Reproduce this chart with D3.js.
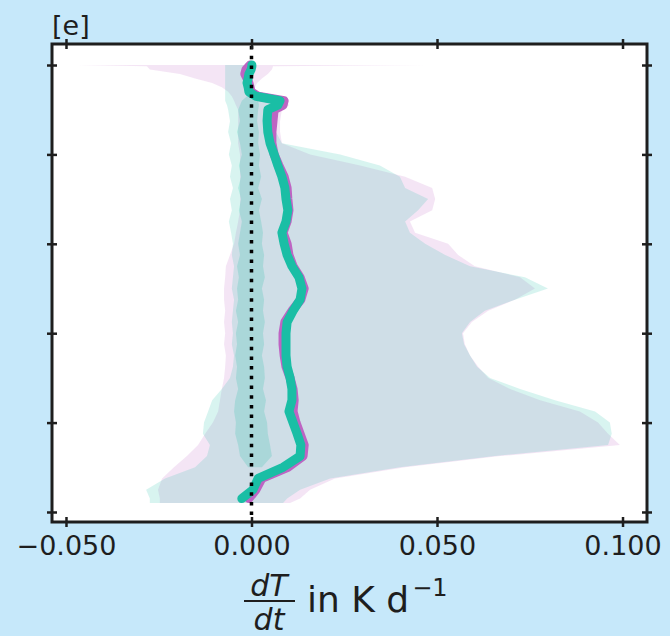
<!DOCTYPE html>
<html><head><meta charset="utf-8">
<script src="https://cdn.jsdelivr.net/npm/d3@7"></script>
<style>html,body{margin:0;padding:0;background:#c6e8fa;} svg{display:block}</style>
</head><body><svg id="c" width="670" height="636"></svg>
<script>
// ---- data ----
const levels = [10.0, 9.97, 9.9, 9.8, 9.7, 9.6, 9.5, 9.4, 9.3, 9.2, 9.1, 9.0, 8.75, 8.5, 8.25, 8.0, 7.75, 7.5, 7.25, 7.0, 6.75, 6.5, 6.25, 6.0, 5.75, 5.5, 5.25, 5.0, 4.75, 4.5, 4.25, 4.0, 3.75, 3.5, 3.25, 3.0, 2.75, 2.5, 2.25, 2.0, 1.75, 1.5, 1.25, 1.0, 0.75, 0.5, 0.3, 0.2];

const tealMean = [0.0001, 0.0001, -0.0001, -0.0007, -0.0009, -0.0012, -0.0009, -0.0007, 0.0012, 0.0077, 0.0071, 0.0044, 0.0042, 0.0044, 0.0050, 0.0061, 0.0071, 0.0082, 0.0090, 0.0093, 0.0098, 0.0093, 0.0082, 0.0088, 0.0096, 0.0109, 0.0128, 0.0136, 0.0131, 0.0112, 0.0096, 0.0093, 0.0093, 0.0093, 0.0096, 0.0104, 0.0109, 0.0109, 0.0101, 0.0112, 0.0123, 0.0133, 0.0131, 0.0085, 0.0018, 0.0004, -0.0026, null];

const magentaMean = [-0.0004, -0.0007, -0.0015, -0.0018, -0.0012, -0.0007, -0.0004, -0.0001, 0.0018, 0.0088, 0.0085, 0.0061, 0.0058, 0.0055, 0.0055, 0.0061, 0.0074, 0.0088, 0.0096, 0.0098, 0.0101, 0.0096, 0.0085, 0.0096, 0.0101, 0.0112, 0.0131, 0.0142, 0.0133, 0.0109, 0.0090, 0.0085, 0.0085, 0.0088, 0.0093, 0.0104, 0.0112, 0.0115, 0.0112, 0.0120, 0.0131, 0.0142, 0.0139, 0.0098, 0.0028, 0.0012, -0.0007, null];

const magentaLow = [-0.0468, -0.0282, -0.0274, -0.0193, -0.0152, -0.0106, -0.0080, -0.0063, -0.0053, -0.0047, -0.0042, -0.0036, -0.0036, -0.0036, -0.0036, -0.0031, -0.0031, -0.0031, -0.0031, -0.0031, -0.0031, -0.0036, -0.0042, -0.0047, -0.0058, -0.0069, -0.0071, -0.0074, -0.0074, -0.0071, -0.0074, -0.0071, -0.0074, -0.0069, -0.0071, -0.0074, -0.0080, -0.0085, -0.0090, -0.0104, -0.0125, -0.0144, -0.0174, -0.0209, -0.0241, -0.0252, -0.0247, -0.0247];

const magentaHigh = [0.0468, 0.0058, 0.0055, 0.0044, 0.0028, 0.0015, 0.0009, 0.0009, 0.0028, 0.0093, 0.0101, 0.0082, 0.0077, 0.0077, 0.0082, 0.0158, 0.0293, 0.0414, 0.0487, 0.0495, 0.0487, 0.0427, 0.0441, 0.0530, 0.0557, 0.0602, 0.0724, 0.0764, 0.0710, 0.0638, 0.0594, 0.0570, 0.0575, 0.0589, 0.0611, 0.0638, 0.0697, 0.0778, 0.0885, 0.0934, 0.0961, 0.0993, 0.0670, 0.0414, 0.0225, 0.0158, 0.0131, 0.0104];

const tealLow = [-0.0071, -0.0071, -0.0071, -0.0071, -0.0071, -0.0071, -0.0071, -0.0071, -0.0071, -0.0071, -0.0066, -0.0063, -0.0058, -0.0063, -0.0055, -0.0061, -0.0053, -0.0058, -0.0050, -0.0058, -0.0053, -0.0061, -0.0055, -0.0050, -0.0053, -0.0047, -0.0050, -0.0053, -0.0047, -0.0050, -0.0053, -0.0050, -0.0053, -0.0047, -0.0050, -0.0058, -0.0080, -0.0106, -0.0117, -0.0128, -0.0131, -0.0112, -0.0120, -0.0152, -0.0233, -0.0284, -0.0274, -0.0274];

const tealHigh = [-0.0004, -0.0004, -0.0004, -0.0004, -0.0004, -0.0001, 0.0001, 0.0007, 0.0023, 0.0082, 0.0090, 0.0071, 0.0066, 0.0066, 0.0082, 0.0239, 0.0346, 0.0400, 0.0414, 0.0476, 0.0449, 0.0414, 0.0427, 0.0468, 0.0522, 0.0589, 0.0737, 0.0799, 0.0710, 0.0629, 0.0589, 0.0567, 0.0573, 0.0589, 0.0608, 0.0643, 0.0724, 0.0818, 0.0926, 0.0966, 0.0971, 0.0961, 0.0656, 0.0400, 0.0212, 0.0131, 0.0096, 0.0085];

const innerLow = [null, null, null, null, null, null, null, null, -0.0012, -0.0026, -0.0031, -0.0036, -0.0031, -0.0039, -0.0031, -0.0026, -0.0034, -0.0028, -0.0036, -0.0028, -0.0034, -0.0026, -0.0031, -0.0036, -0.0031, -0.0039, -0.0034, -0.0039, -0.0036, -0.0042, -0.0036, -0.0042, -0.0039, -0.0044, -0.0039, -0.0042, -0.0036, -0.0044, -0.0047, -0.0042, -0.0044, -0.0036, -0.0031, -0.0009, null, null, null, null];

const innerHigh = [null, null, null, null, null, null, null, null, 0.0009, 0.0018, 0.0020, 0.0018, 0.0015, 0.0020, 0.0018, 0.0023, 0.0020, 0.0026, 0.0018, 0.0028, 0.0020, 0.0026, 0.0031, 0.0028, 0.0034, 0.0031, 0.0036, 0.0028, 0.0034, 0.0031, 0.0036, 0.0031, 0.0034, 0.0028, 0.0034, 0.0036, 0.0031, 0.0039, 0.0034, 0.0042, 0.0044, 0.0050, 0.0055, 0.0028, null, null, null, null];

const xTicks = [-0.05, 0, 0.05, 0.1];
const yTicks = [0, 2, 4, 6, 8, 10];
const panelLabel = "[e]";

// ---- drawing ----
const W = 670, H = 636;
const BG = "#c6e8fa", TEAL = "#1abea5", MAG = "#be64c3", INK = "#1e1e1e";
const FONT = "DejaVu Sans, sans-serif";
const svg = d3.select("#c");
svg.append("rect").attr("width", W).attr("height", H).attr("fill", BG);

const m = {l: 52, r: 647, t: 44, b: 522};
const x = d3.scaleLinear().domain([-0.05377, 0.1066]).range([m.l, m.r]);
const y = d3.scaleLinear().domain([-0.224, 10.47]).range([m.b, m.t]);

svg.append("defs").append("clipPath").attr("id", "clip")
  .append("rect").attr("x", m.l).attr("y", m.t).attr("width", m.r - m.l).attr("height", m.b - m.t);
svg.append("rect").attr("x", m.l).attr("y", m.t).attr("width", m.r - m.l).attr("height", m.b - m.t).attr("fill", "#fff");

const g = svg.append("g").attr("clip-path", "url(#clip)");

function band(lo, hi, color, op) {
  const data = levels.map((z, i) => ({z, lo: lo[i], hi: hi[i]}));
  g.append("path").datum(data)
    .attr("d", d3.area().defined(d => d.lo != null && d.hi != null)
      .y(d => y(d.z)).x0(d => x(d.lo)).x1(d => x(d.hi)))
    .attr("fill", color).attr("fill-opacity", op);
}
band(magentaLow, magentaHigh, MAG, 0.17);
band(tealLow, tealHigh, TEAL, 0.17);
band(innerLow, innerHigh, TEAL, 0.2);

function meanLine(vals, color) {
  const data = levels.map((z, i) => ({z, v: vals[i]}));
  g.append("path").datum(data)
    .attr("d", d3.line().defined(d => d.v != null).x(d => x(d.v)).y(d => y(d.z)))
    .attr("fill", "none").attr("stroke", color).attr("stroke-width", 9)
    .attr("stroke-linejoin", "round").attr("stroke-linecap", "round");
}
meanLine(magentaMean, MAG);
meanLine(tealMean, TEAL);

// zero reference line
g.append("line").attr("x1", x(0)).attr("x2", x(0)).attr("y1", m.t + 2).attr("y2", m.b)
  .attr("stroke", "#000").attr("stroke-width", 3.5).attr("stroke-dasharray", "3.5,6.2");

// axes
function styleTicks(sel, horiz) {
  sel.select(".domain").remove();
  sel.selectAll(".tick line").attr("stroke", INK).attr("stroke-width", 2.5);
  if (horiz) sel.selectAll(".tick line").attr("y1", -5).attr("y2", 5);
  else sel.selectAll(".tick line").attr("x1", -5).attr("x2", 5);
}
const ax = svg.append("g").attr("transform", `translate(0,${m.b})`)
  .call(d3.axisBottom(x).tickValues(xTicks).tickFormat(d3.format(".3f")).tickSize(5).tickPadding(9));
styleTicks(ax, true);
ax.selectAll("text").attr("font-family", FONT).attr("font-size", 27).attr("fill", INK);

const at = svg.append("g").attr("transform", `translate(0,${m.t})`)
  .call(d3.axisTop(x).tickValues(xTicks).tickFormat("").tickSize(5));
styleTicks(at, true);
const al = svg.append("g").attr("transform", `translate(${m.l},0)`)
  .call(d3.axisLeft(y).tickValues(yTicks).tickFormat("").tickSize(5));
styleTicks(al, false);
const ar = svg.append("g").attr("transform", `translate(${m.r},0)`)
  .call(d3.axisRight(y).tickValues(yTicks).tickFormat("").tickSize(5));
styleTicks(ar, false);

svg.append("rect").attr("x", m.l).attr("y", m.t).attr("width", m.r - m.l).attr("height", m.b - m.t)
  .attr("fill", "none").attr("stroke", INK).attr("stroke-width", 3);

// panel label
svg.append("text").attr("x", 52).attr("y", 35).attr("font-family", FONT).attr("font-size", 27)
  .attr("fill", INK).text(panelLabel);

// x-axis label: dT/dt in K d^-1
const lx = 269;
svg.append("text").attr("x", lx).attr("y", 596).attr("text-anchor", "middle")
  .attr("font-family", FONT).attr("font-style", "italic").attr("font-size", 30).attr("fill", INK).text("dT");
svg.append("line").attr("x1", 244).attr("x2", 295).attr("y1", 601).attr("y2", 601)
  .attr("stroke", INK).attr("stroke-width", 2);
svg.append("text").attr("x", lx).attr("y", 630).attr("text-anchor", "middle")
  .attr("font-family", FONT).attr("font-style", "italic").attr("font-size", 30).attr("fill", INK).text("dt");
const ut = svg.append("text").attr("x", 307).attr("y", 612)
  .attr("font-family", FONT).attr("font-size", 36).attr("fill", INK);
ut.append("tspan").text("in K d");
ut.append("tspan").attr("dy", -16).attr("dx", 3).attr("font-size", 24).text("\u22121");
</script>
</body></html>
